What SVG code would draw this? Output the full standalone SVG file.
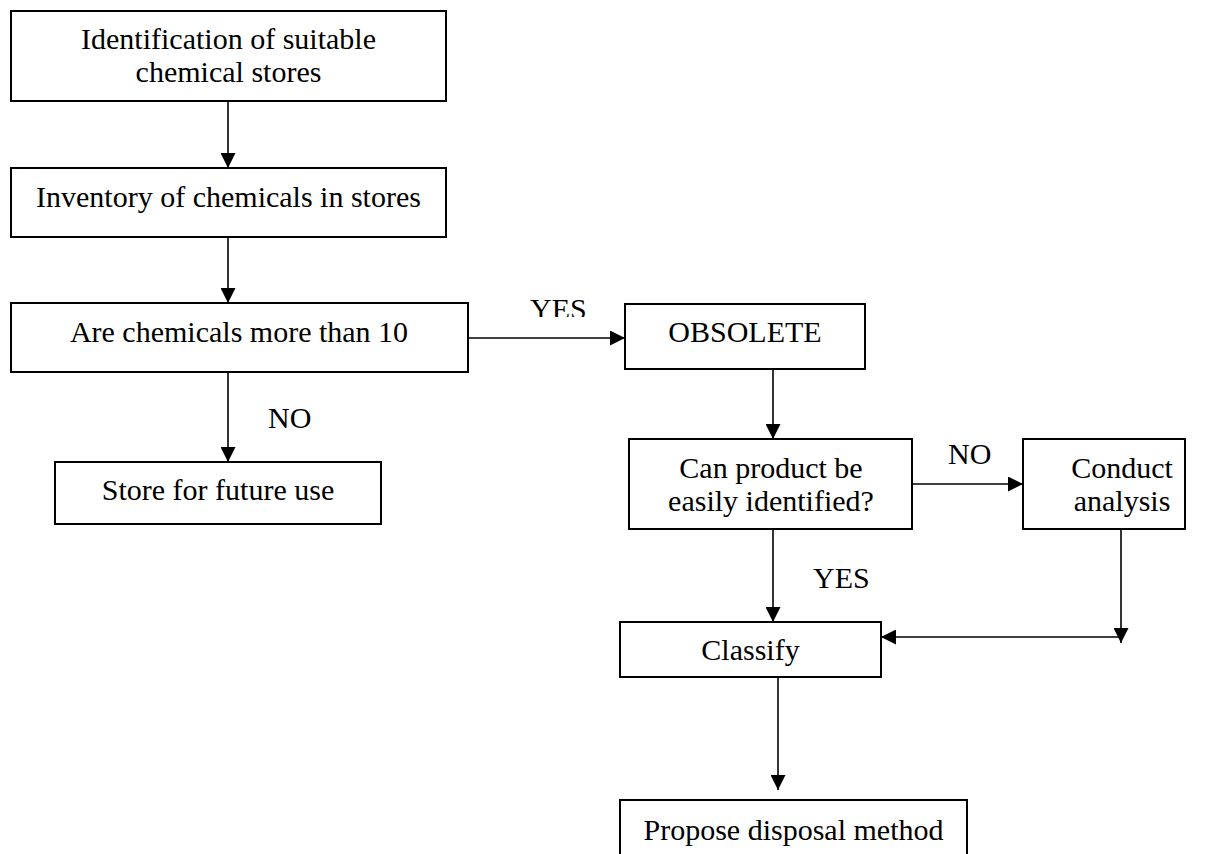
<svg xmlns="http://www.w3.org/2000/svg" width="1225" height="854" viewBox="0 0 1225 854">
<style>
.box{fill:#fff;stroke:#000;stroke-width:2}
.t{font-family:'Liberation Serif','Times New Roman','DejaVu Serif',serif;font-size:30px;fill:#000;text-anchor:middle}
.tl{font-family:'Liberation Serif','Times New Roman','DejaVu Serif',serif;font-size:30px;fill:#000}
.c{fill:none;stroke:#000;stroke-width:1.6}
</style>
<defs>
<marker id="ah" markerUnits="userSpaceOnUse" markerWidth="15" markerHeight="15" refX="15" refY="7.5" orient="auto">
<path d="M0,0 L15,7.5 L0,15 z" fill="#000"/>
</marker>
<clipPath id="yesclip"><rect x="500" y="280" width="120" height="37"/></clipPath>
</defs>
<rect width="1225" height="854" fill="#fff"/>
<g id="connectors">
<line class="c" x1="228" y1="101" x2="228" y2="168" marker-end="url(#ah)"/>
<line class="c" x1="228" y1="237" x2="228" y2="303" marker-end="url(#ah)"/>
<line class="c" x1="228" y1="372" x2="228" y2="462" marker-end="url(#ah)"/>
<line class="c" x1="468" y1="338" x2="625" y2="338" marker-end="url(#ah)"/>
<line class="c" x1="773" y1="369" x2="773" y2="439" marker-end="url(#ah)"/>
<line class="c" x1="912" y1="484" x2="1023" y2="484" marker-end="url(#ah)"/>
<line class="c" x1="773" y1="529" x2="773" y2="622" marker-end="url(#ah)"/>
<line class="c" x1="1121" y1="529" x2="1121" y2="643" marker-end="url(#ah)"/>
<line class="c" x1="1121" y1="637" x2="881" y2="637" marker-end="url(#ah)"/>
<line class="c" x1="778" y1="677" x2="778" y2="790" marker-end="url(#ah)"/>
<text class="tl" x="268" y="428">NO</text>
<text class="tl" x="530" y="319" clip-path="url(#yesclip)">YES</text>
<text class="tl" x="948" y="464">NO</text>
<text class="tl" x="813" y="588">YES</text>
</g>
<g id="n1">
<rect class="box" x="11" y="11" width="435" height="90"/>
<text class="t" x="228.5" y="49">Identification of suitable</text>
<text class="t" x="228.5" y="82">chemical stores</text>
</g>
<g id="n2">
<rect class="box" x="11" y="168" width="435" height="69"/>
<text class="t" x="228.5" y="207">Inventory of chemicals in stores</text>
</g>
<g id="n3">
<rect class="box" x="11" y="303" width="457" height="69"/>
<text class="t" x="239" y="342">Are chemicals more than 10</text>
</g>
<g id="n4">
<rect class="box" x="55" y="462" width="326" height="62"/>
<text class="t" x="218" y="500">Store for future use</text>
</g>
<g id="n5">
<rect class="box" x="625" y="304" width="240" height="65"/>
<text class="t" x="745" y="342">OBSOLETE</text>
</g>
<g id="n6">
<rect class="box" x="629" y="439" width="283" height="90"/>
<text class="t" x="771" y="478">Can product be</text>
<text class="t" x="771" y="511">easily identified?</text>
</g>
<g id="n7">
<rect class="box" x="1023" y="439" width="162" height="90"/>
<text class="t" x="1122" y="478">Conduct</text>
<text class="t" x="1122" y="511">analysis</text>
</g>
<g id="n8">
<rect class="box" x="620" y="622" width="261" height="55"/>
<text class="t" x="750.5" y="660">Classify</text>
</g>
<g id="n9">
<rect class="box" x="620" y="800" width="347" height="70"/>
<text class="t" x="793.5" y="840">Propose disposal method</text>
</g>
</svg>
